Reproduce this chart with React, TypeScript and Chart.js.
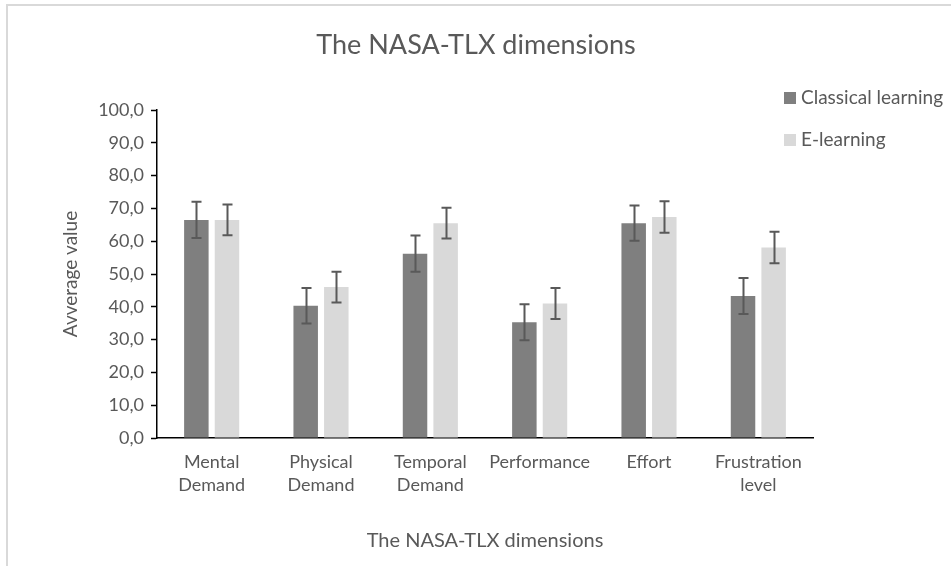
import React, { useEffect, useRef } from "react";
import { Chart, registerables } from "chart.js";

Chart.register(...registerables);

const categories: string[][] = [
  ["Mental", "Demand"],
  ["Physical", "Demand"],
  ["Temporal", "Demand"],
  ["Performance"],
  ["Effort"],
  ["Frustration", "level"],
];
const classicalValues = [66.5, 40.3, 56.2, 35.3, 65.5, 43.3];
const classicalErrors = [5.5, 5.4, 5.5, 5.5, 5.4, 5.5];
const eLearningValues = [66.5, 46.0, 65.5, 41.0, 67.4, 58.1];
const eLearningErrors = [4.7, 4.7, 4.7, 4.7, 4.8, 4.8];
const seriesNames = ["Classical learning", "E-learning"];
const seriesColors = ["#7f7f7f", "#d9d9d9"];
const titleText = "The NASA-TLX dimensions";
const xTitle = "The NASA-TLX dimensions";
const yTitle = "Avverage value";

const FONT = "Lato, 'Open Sans', sans-serif";
const TEXT = "#595959";

const errorBarPlugin = {
  id: "errorBars",
  afterDatasetsDraw(chart: any) {
    const ctx = chart.ctx;
    const yScale = chart.scales.y;
    const errs = [classicalErrors, eLearningErrors];
    ctx.save();
    ctx.strokeStyle = "#595959";
    ctx.lineWidth = 2;
    chart.data.datasets.forEach((ds: any, di: number) => {
      const meta = chart.getDatasetMeta(di);
      meta.data.forEach((bar: any, i: number) => {
        const v = ds.data[i];
        const e = errs[di][i];
        const x = Math.round(bar.x) + 0.5;
        const yTop = yScale.getPixelForValue(v + e);
        const yBot = yScale.getPixelForValue(v - e);
        ctx.beginPath();
        ctx.moveTo(x, yTop);
        ctx.lineTo(x, yBot);
        ctx.moveTo(x - 5, yTop);
        ctx.lineTo(x + 5, yTop);
        ctx.moveTo(x - 5, yBot);
        ctx.lineTo(x + 5, yBot);
        ctx.stroke();
      });
    });
    ctx.restore();
  },
};

const titleLegendPlugin = {
  id: "titleLegend",
  afterDraw(chart: any) {
    const ctx = chart.ctx;
    ctx.save();
    ctx.fillStyle = TEXT;
    ctx.font = `27px ${FONT}`;
    ctx.textAlign = "center";
    ctx.textBaseline = "middle";
    ctx.fillText(titleText, 476, 45);
    ctx.font = `19px ${FONT}`;
    ctx.textAlign = "left";
    const ys = [98, 140];
    seriesNames.forEach((name, i) => {
      ctx.fillStyle = seriesColors[i];
      ctx.fillRect(784, ys[i] - 6, 12, 12);
      ctx.fillStyle = TEXT;
      ctx.fillText(name, 801, ys[i]);
    });
    ctx.restore();
  },
};

export default function App() {
  const ref = useRef<HTMLCanvasElement | null>(null);
  useEffect(() => {
    if (!ref.current) return;
    const chart = new Chart(ref.current, {
      type: "bar",
      data: {
        labels: categories,
        datasets: [
          {
            label: seriesNames[0],
            data: classicalValues,
            backgroundColor: seriesColors[0],
            categoryPercentage: 0.56,
            barPercentage: 0.8,
          },
          {
            label: seriesNames[1],
            data: eLearningValues,
            backgroundColor: seriesColors[1],
            categoryPercentage: 0.56,
            barPercentage: 0.8,
          },
        ],
      },
      options: {
        animation: false,
        responsive: false,
        maintainAspectRatio: false,
        layout: { padding: { left: 0, top: 110, right: 138, bottom: 0 } },
        plugins: {
          legend: { display: false },
          title: { display: false },
          tooltip: { enabled: false },
        },
        scales: {
          x: {
            grid: { display: false, drawTicks: false },
            border: { display: true, color: "#000000", width: 1.5 },
            ticks: {
              color: TEXT,
              font: { family: FONT, size: 18, lineHeight: 1.28 },
              padding: 13,
              maxRotation: 0,
              autoSkip: false,
            },
            title: {
              display: true,
              text: xTitle,
              color: TEXT,
              font: { family: FONT, size: 20 },
              padding: { top: 0, bottom: 13 },
            },
            afterFit(scale: any) {
              scale.height = 128;
            },
          },
          y: {
            min: 0,
            max: 100,
            grid: {
              display: true,
              drawOnChartArea: false,
              drawTicks: true,
              tickLength: 6,
              tickColor: "#000000",
              tickWidth: 1.5,
            },
            border: { display: true, color: "#000000", width: 1.5 },
            ticks: {
              stepSize: 10,
              color: TEXT,
              font: { family: FONT, size: 18 },
              padding: 7,
              callback: (v: any) => Number(v).toFixed(1).replace(".", ","),
            },
            title: {
              display: true,
              text: yTitle,
              color: TEXT,
              font: { family: FONT, size: 19 },
              padding: { top: 59, bottom: 0 },
            },
            afterFit(scale: any) {
              scale.width = 157;
            },
          },
        },
      },
      plugins: [errorBarPlugin, titleLegendPlugin],
    });
    return () => chart.destroy();
  }, []);

  return (
    <div style={{ position: "fixed", left: 0, top: 0, width: 951, height: 566, background: "#ffffff", overflow: "hidden" }}>
      <div
        style={{
          position: "absolute",
          left: 6,
          top: 4,
          width: 960,
          height: 580,
          borderLeft: "2px solid #d9d9d9",
          borderTop: "2px solid #d9d9d9",
        }}
      />
      <canvas ref={ref} width={951} height={566} style={{ position: "absolute", left: 0, top: 0, width: 951, height: 566 }} />
    </div>
  );
}
